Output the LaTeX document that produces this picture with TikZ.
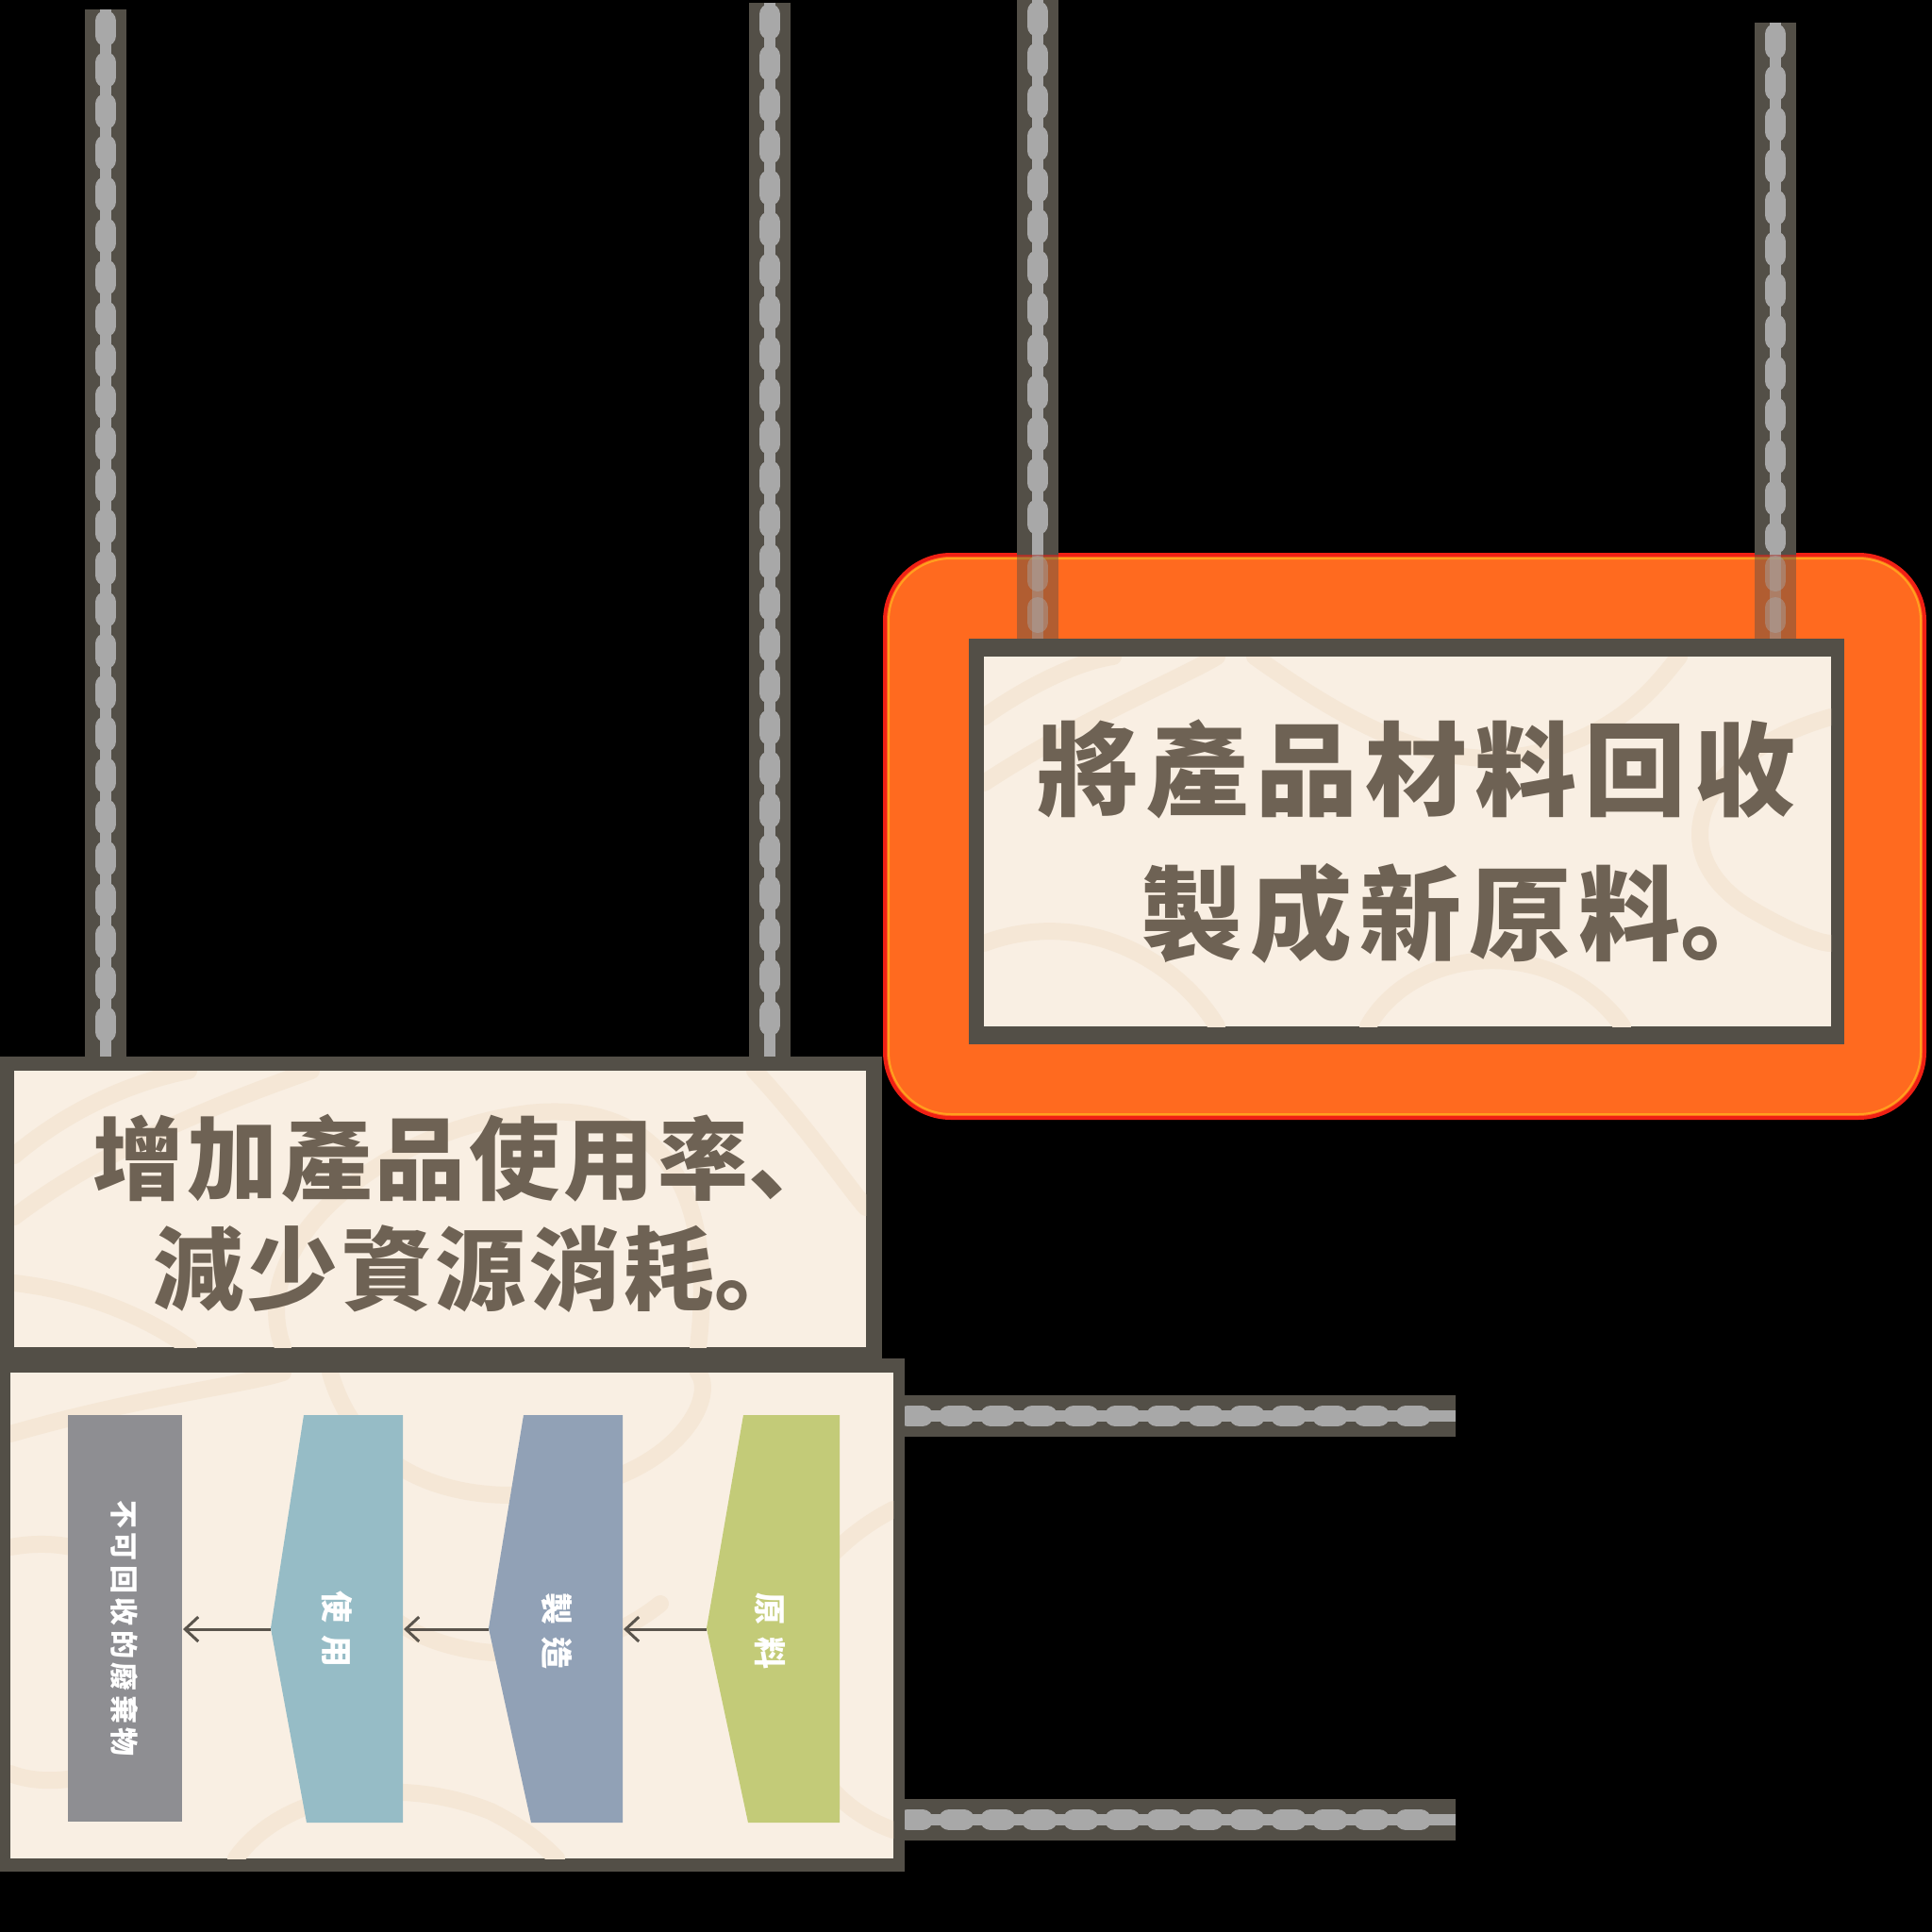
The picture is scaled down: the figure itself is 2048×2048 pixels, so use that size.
\documentclass[tikz,border=0pt]{standalone}
\usepackage{fontspec}
\newfontfamily\cjk{Noto Sans CJK TC}
\newfontfamily\cjkpunct{Noto Sans CJK SC}
\usetikzlibrary{arrows.meta}

\definecolor{frame}{RGB}{83,79,71}
\definecolor{boardcol}{RGB}{249,239,227}
\definecolor{grain}{RGB}{245,231,214}
\definecolor{ink}{RGB}{110,98,84}
\definecolor{ropegray}{RGB}{168,168,168}
\definecolor{glow}{RGB}{255,106,31}
\definecolor{glowedge}{RGB}{240,32,20}
\definecolor{glowhalo}{RGB}{255,160,30}
\definecolor{wastegray}{RGB}{142,142,146}
\definecolor{usecol}{RGB}{150,188,198}
\definecolor{makecol}{RGB}{145,161,182}
\definecolor{rawcol}{RGB}{195,203,120}
\definecolor{arrowcol}{RGB}{90,84,76}

\tikzset{
  ropeedge/.style={draw=frame, line width=22pt},
  ropecore/.style={draw=ropegray, line width=6pt},
  ropebead/.style={draw=ropegray, line width=11pt, line cap=round, dash pattern=on 8pt off 14pt,
    shorten <=6pt, shorten >=6pt},
  grainline/.style={draw=grain, line width=9pt, line cap=round},
  signtext/.style={text=ink, inner sep=0pt, anchor=west},
  stagetext/.style={text=white, inner sep=0pt, rotate=-90,
    font=\cjk\bfseries\fontsize{17}{20}\selectfont\addfontfeature{LetterSpace=40}},
  flow/.style={draw=arrowcol, line width=1.5pt, -{Straight Barb[length=7pt,width=13pt]}},
}

% rope drawn in three layers
\newcommand{\rope}[3][]{%
  \draw[ropeedge,#1] (#2) -- (#3);
  \draw[ropecore,#1] (#2) -- (#3);
  \draw[ropebead,#1] (#2) -- (#3);}
\newcommand{\punct}[1]{{\cjkpunct\bfseries #1}}

\begin{document}
\begin{tikzpicture}[x=0.5pt,y=0.5pt,yscale=-1]
  \useasboundingbox (0,0) rectangle (2048,2048);
  \fill[black] (0,0) rectangle (2048,2048);

  % rope ends
  \coordinate (lrope1 top) at (112,10);
  \coordinate (lrope1 end) at (112,1122);
  \coordinate (lrope2 top) at (816,3);
  \coordinate (lrope2 end) at (816,1122);
  \coordinate (rrope1 top) at (1100,0);
  \coordinate (rrope1 mid) at (1100,588);
  \coordinate (rrope1 end) at (1100,679);
  \coordinate (rrope2 top) at (1882,24);
  \coordinate (rrope2 mid) at (1882,588);
  \coordinate (rrope2 end) at (1882,679);
  \coordinate (hrope1 start) at (950,1501);
  \coordinate (hrope1 end) at (1543,1501);
  \coordinate (hrope2 start) at (950,1929);
  \coordinate (hrope2 end) at (1543,1929);

  \rope{lrope1 top}{lrope1 end}
  \rope{lrope2 top}{lrope2 end}
  \rope{hrope1 start}{hrope1 end}
  \rope{hrope2 start}{hrope2 end}

  % glowing sign on the right
  \draw[fill=glow, draw=glowedge, line width=2pt, rounded corners=35pt] (938,588) rectangle (2040,1185);
  \draw[draw=glowhalo, line width=1pt, rounded corners=33pt] (942,592) rectangle (2036,1181);
  \rope{rrope1 top}{rrope1 mid}
  \rope{rrope2 top}{rrope2 mid}
  \rope[opacity=0.45]{rrope1 mid}{rrope1 end}
  \rope[opacity=0.45]{rrope2 mid}{rrope2 end}

  \fill[frame] (1027,677) rectangle (1955,1107);
  \fill[boardcol] (1043,696) rectangle (1941,1088);
  \begin{scope}
    \clip (1043,696) rectangle (1941,1088);
    \draw[grainline] (1043,760) .. controls (1100,720) and (1150,700) .. (1180,696);
    \draw[grainline] (1043,830) .. controls (1150,760) and (1250,720) .. (1290,696);
    \draw[grainline] (1330,696) .. controls (1420,760) and (1520,820) .. (1620,800) .. controls (1720,780) and (1760,720) .. (1780,696);
    \draw[grainline] (1941,760) .. controls (1800,800) and (1760,900) .. (1850,960) .. controls (1900,990) and (1930,1000) .. (1941,1000);
    \draw[grainline] (1043,1000) .. controls (1150,960) and (1250,1020) .. (1290,1088);
    \draw[grainline] (1450,1088) .. controls (1500,1000) and (1650,990) .. (1720,1088);
  \end{scope}
  \node[signtext, font=\cjk\bfseries\fontsize{54}{60}\selectfont\addfontfeature{LetterSpace=7.5}]
    (recycle line1) at (1099,815) {將產品材料回收};
  \node[signtext, font=\cjk\bfseries\fontsize{54}{60}\selectfont\addfontfeature{LetterSpace=7.5}]
    (recycle line2) at (1209,968) {製成新原料\punct{。}};

  % sign on the left
  \fill[frame] (0,1120) rectangle (935,1442);
  \fill[boardcol] (15,1135) rectangle (918,1428);
  \begin{scope}
    \clip (15,1135) rectangle (918,1428);
    \draw[grainline] (15,1225) .. controls (80,1170) and (150,1145) .. (200,1135);
    \draw[grainline] (15,1290) .. controls (120,1210) and (260,1160) .. (330,1135);
    \draw[grainline] (300,1428) .. controls (260,1320) and (400,1200) .. (560,1180) .. controls (700,1165) and (760,1260) .. (740,1428);
    \draw[grainline] (15,1360) .. controls (100,1370) and (160,1400) .. (200,1428);
    \draw[grainline] (800,1135) .. controls (860,1200) and (900,1260) .. (918,1280);
  \end{scope}
  \node[signtext, font=\cjk\bfseries\fontsize{48}{60}\selectfont\addfontfeature{LetterSpace=4}]
    (reuse line1) at (98,1228) {增加產品使用率\punct{、}};
  \node[signtext, font=\cjk\bfseries\fontsize{48}{60}\selectfont\addfontfeature{LetterSpace=4}]
    (reuse line2) at (162,1345) {減少資源消耗\punct{。}};

  % box with the linear flow
  \fill[frame] (0,1440) rectangle (959,1984);
  \fill[boardcol] (11,1455) rectangle (947,1970);
  \begin{scope}
    \clip (11,1455) rectangle (947,1970);
    \draw[grainline] (11,1520) .. controls (150,1480) and (250,1470) .. (300,1455);
    \draw[grainline] (350,1455) .. controls (380,1560) and (480,1600) .. (600,1580) .. controls (720,1560) and (760,1480) .. (740,1455);
    \draw[grainline] (11,1640) .. controls (120,1620) and (200,1700) .. (180,1800) .. controls (160,1880) and (60,1900) .. (11,1880);
    \draw[grainline] (947,1600) .. controls (850,1650) and (800,1750) .. (850,1850) .. controls (880,1910) and (920,1930) .. (947,1940);
    \draw[grainline] (250,1970) .. controls (300,1900) and (420,1880) .. (520,1920) .. controls (560,1940) and (580,1960) .. (590,1970);
    \draw[grainline] (400,1700) .. controls (450,1760) and (600,1780) .. (700,1700);
  \end{scope}

  \fill[wastegray] (72,1500) rectangle (193,1931);
  \fill[usecol] (322,1500) -- (427,1500) -- (427,1932) -- (325,1932) -- (287,1726) -- cycle;
  \fill[makecol] (555,1500) -- (660,1500) -- (660,1932) -- (563,1932) -- (518,1726) -- cycle;
  \fill[rawcol] (788,1500) -- (890,1500) -- (890,1932) -- (793,1932) -- (749,1726) -- cycle;
  \coordinate (waste east) at (194,1727);
  \coordinate (use tip) at (287,1727);
  \coordinate (use east) at (428,1727);
  \coordinate (make tip) at (518,1727);
  \coordinate (make east) at (661,1727);
  \coordinate (raw tip) at (749,1727);

  \node[stagetext, font=\cjk\bfseries\fontsize{15}{18}\selectfont\addfontfeature{LetterSpace=15}]
    (waste label) at (132,1726) {不可回收的廢棄物};
  \node[stagetext] (use label) at (357,1727) {使用};
  \node[stagetext] (make label) at (590,1729) {製造};
  \node[stagetext] (raw label) at (816,1729) {原料};

  \draw[flow] (use tip) -- (waste east);
  \draw[flow] (make tip) -- (use east);
  \draw[flow] (raw tip) -- (make east);
\end{tikzpicture}
\end{document}
